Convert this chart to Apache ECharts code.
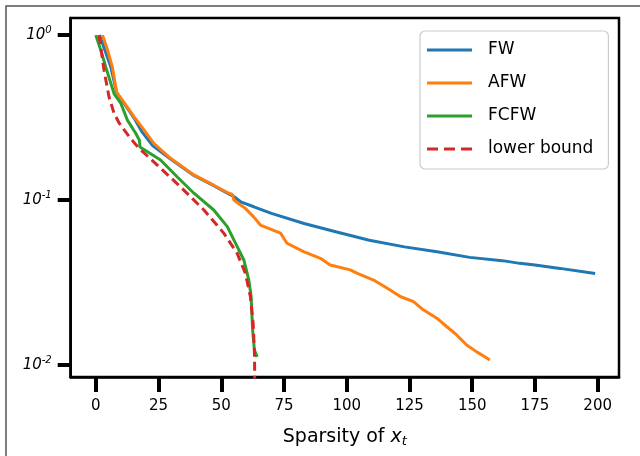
<!DOCTYPE html>
<html>
<head>
<meta charset="utf-8">
<script src="https://cdn.jsdelivr.net/npm/echarts@6/dist/echarts.min.js"></script>
<style>
html,body{margin:0;padding:0;background:#fff;}
#chart{width:640px;height:456px;}
</style>
</head>
<body>
<div id="chart"></div>
<script>
// ---- data ----
const xTicks = [0, 25, 50, 75, 100, 125, 150, 175, 200];
const yTicks = [0.01, 0.1, 1];
const seriesNames = ['FW', 'AFW', 'FCFW', 'lower bound'];

const fwX = [1.5, 3.5, 6, 8.3, 11.3, 15.2, 18.5, 22.5, 29.8, 39.1, 47, 53, 55, 58, 63, 70, 83, 96, 109, 123, 136, 149, 162, 169, 175, 185, 199];
const fwY = [1.0, 0.82, 0.64, 0.45, 0.385, 0.315, 0.258, 0.215, 0.177, 0.141, 0.122, 0.109, 0.105, 0.097, 0.091, 0.083, 0.072, 0.064, 0.057, 0.052, 0.0486, 0.0449, 0.0429, 0.0413, 0.0404, 0.0385, 0.0359];

const afwX = [2.7, 4.7, 6.6, 8.3, 11.3, 15.2, 19.2, 23.2, 29.8, 39.1, 47, 53, 54.5, 55, 57, 59.6, 62.9, 65.6, 66.3, 73.6, 76.2, 82.8, 89.5, 93.4, 101.4, 104, 110.7, 117.3, 121.3, 126.6, 130.5, 135.9, 139.8, 143.8, 147.8, 151.8, 155, 157];
const afwY = [1.0, 0.81, 0.64, 0.45, 0.39, 0.32, 0.266, 0.22, 0.179, 0.142, 0.123, 0.11, 0.108, 0.1, 0.095, 0.089, 0.079, 0.0705, 0.069, 0.063, 0.0547, 0.0486, 0.0443, 0.0404, 0.0377, 0.036, 0.0327, 0.0285, 0.026, 0.0242, 0.0216, 0.0192, 0.0171, 0.0152, 0.0132, 0.012, 0.0112, 0.0107];

const fcfwX = [0, 2, 4, 7.3, 10, 12.6, 15.9, 17.4, 17.6, 20.6, 25.8, 32.5, 39.1, 47, 52.4, 57, 59, 61, 61.9, 62.5, 63.2, 64.3];
const fcfwY = [1.0, 0.81, 0.64, 0.44, 0.385, 0.305, 0.254, 0.23, 0.21, 0.196, 0.175, 0.138, 0.11, 0.087, 0.069, 0.0498, 0.0433, 0.0327, 0.026, 0.0163, 0.0123, 0.0112];

const lbX = [1.3, 2.3, 3.3, 5.3, 7.3, 9.2, 11.3, 14, 17.2, 24.5, 33.8, 43.1, 51, 56.3, 59.6, 61.6, 62.7, 63.2, 63.3, 63.3];
const lbY = [1.0, 0.78, 0.61, 0.42, 0.335, 0.295, 0.266, 0.235, 0.206, 0.163, 0.12, 0.087, 0.063, 0.0476, 0.036, 0.026, 0.0179, 0.0123, 0.0096, 0.005];

const colors = ['#1f77b4', '#ff7f0e', '#2ca02c', '#d62728'];

function zip(xs, ys) { return xs.map((x, i) => [x, ys[i]]); }

const FONT = 'DejaVu Sans';
const chart = echarts.init(document.getElementById('chart'), null, { renderer: 'canvas' });

const solidIcon = 'path://M0,0h45v3h-45z';
const dashIcon = 'path://M0,0h11v3h-11z M17,0h11v3h-11z M34,0h11v3h-11z';

const option = {
  animation: false,
  backgroundColor: '#fff',
  color: colors,
  textStyle: { fontFamily: FONT },
  graphic: [
    { type: 'polyline', silent: true, z: 0,
      shape: { points: [[6, 456], [6, 6], [640, 6]] },
      style: { stroke: '#555', lineWidth: 1.5, fill: null } }
  ],
  grid: {
    left: 70.7, right: 21, top: 18, bottom: 79,
    show: true, borderColor: '#000', borderWidth: 2.5, backgroundColor: 'transparent'
  },
  legend: {
    orient: 'vertical',
    left: 420, top: 31,
    data: [
      { name: 'FW', icon: solidIcon },
      { name: 'AFW', icon: solidIcon },
      { name: 'FCFW', icon: solidIcon },
      { name: 'lower bound', icon: dashIcon }
    ],
    itemWidth: 45, itemHeight: 3, itemGap: 16,
    padding: [10.5, 15, 11.5, 7],
    backgroundColor: '#fff',
    borderColor: '#ccc', borderWidth: 1.2, borderRadius: 5,
    textStyle: { fontFamily: FONT, fontSize: 17, color: '#000', padding: [0, 0, 0, 11] }
  },
  xAxis: {
    type: 'value',
    min: -10, max: 208.5,
    splitLine: { show: false },
    axisLine: { show: true, onZero: false, lineStyle: { color: '#000', width: 2.5 } },
    axisTick: { show: true, customValues: xTicks, length: 15, inside: false, lineStyle: { color: '#000', width: 4 } },
    axisLabel: { customValues: xTicks, margin: 22, fontSize: 15, color: '#000', fontFamily: FONT },
    name: '{n|Sparsity of }{i|x}{s|t}',
    nameLocation: 'middle',
    nameGap: 50,
    nameTextStyle: {
      rich: {
        n: { fontSize: 19, fontFamily: FONT, color: '#000' },
        i: { fontSize: 19, fontFamily: FONT, fontStyle: 'italic', color: '#000' },
        s: { fontSize: 13, fontFamily: FONT, fontStyle: 'italic', color: '#000', padding: [8, 0, 0, 0] }
      }
    }
  },
  yAxis: {
    type: 'log',
    logBase: 10,
    min: 0.00845, max: 1.27,
    splitLine: { show: false },
    minorTick: { show: false },
    axisLine: { show: true, onZero: false, lineStyle: { color: '#000', width: 2.5 } },
    axisTick: { show: true, customValues: yTicks, length: 13, lineStyle: { color: '#000', width: 4 } },
    axisLabel: {
      customValues: yTicks,
      margin: 19,
      color: '#000',
      formatter: function (v) {
        const e = Math.round(Math.log10(v));
        return '{b|10}{s|' + e + '}';
      },
      rich: {
        b: { fontSize: 15, fontFamily: FONT, fontStyle: 'italic', color: '#000' },
        s: { fontSize: 10, fontFamily: FONT, fontStyle: 'italic', color: '#000', padding: [0, 0, 9, 0] }
      }
    }
  },
  series: [
    { name: 'FW', type: 'line', symbol: 'none', data: zip(fwX, fwY), lineStyle: { width: 3, color: colors[0] }, z: 2 },
    { name: 'AFW', type: 'line', symbol: 'none', data: zip(afwX, afwY), lineStyle: { width: 3, color: colors[1] }, z: 3 },
    { name: 'FCFW', type: 'line', symbol: 'none', data: zip(fcfwX, fcfwY), lineStyle: { width: 3, color: colors[2] }, z: 4 },
    { name: 'lower bound', type: 'line', symbol: 'none', data: zip(lbX, lbY), lineStyle: { width: 3, color: colors[3], type: [9, 5] }, z: 5 }
  ]
};
chart.setOption(option);
</script>
</body>
</html>
